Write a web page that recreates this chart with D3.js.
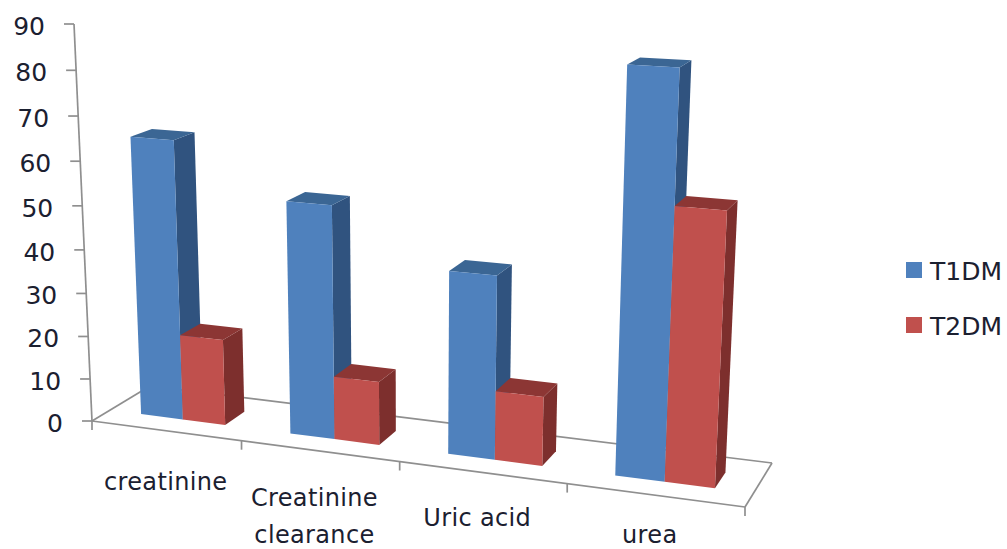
<!DOCTYPE html>
<html>
<head>
<meta charset="utf-8">
<style>
  html, body { margin: 0; padding: 0; background: #fff; }
  text { font-family: "DejaVu Sans", sans-serif; fill: #1b2030; }
</style>
<script src="https://cdnjs.cloudflare.com/ajax/libs/d3/7.8.5/d3.min.js"></script>
</head>
<body>
<svg id="chart" width="1007" height="549"></svg>
<script>
const categories = [["creatinine"], ["Creatinine", "clearance"], ["Uric acid"], ["urea"]];
const categoryKeys = ["creatinine", "Creatinine clearance", "Uric acid", "urea"];
const seriesNames = ["T1DM", "T2DM"];
const t1dmValues = [64.5, 53, 41, 87];
const t2dmValues = [20, 14.5, 15.5, 59];
const valueTicks = [0, 10, 20, 30, 40, 50, 60, 70, 80, 90];
const seriesColors = {
  T1DM: { front: "#4f81bd", side: "#30537f", top: "#3b6694" },
  T2DM: { front: "#c0504d", side: "#7d2f2d", top: "#8c3634" }
};

// Floor of the 3D plot in screen space, plus the point where verticals converge.
const floor = { fl: [92, 421], fr: [745, 507], br: [772, 463], bl: [150, 386] };
const verticalVanish = [412, 7480];
const axisTopY = 24;

function floorHomography({ fl, fr, br, bl }) {
  const dx1 = fr[0] - br[0], dx2 = bl[0] - br[0], sx = fl[0] - fr[0] + br[0] - bl[0];
  const dy1 = fr[1] - br[1], dy2 = bl[1] - br[1], sy = fl[1] - fr[1] + br[1] - bl[1];
  const den = dx1 * dy2 - dx2 * dy1;
  const g = (sx * dy2 - dx2 * sy) / den, h = (dx1 * sy - sx * dy1) / den;
  return {
    a: fr[0] - fl[0] + g * fr[0], b: bl[0] - fl[0] + h * bl[0], c: fl[0],
    d: fr[1] - fl[1] + g * fr[1], e: bl[1] - fl[1] + h * bl[1], f: fl[1], g, h
  };
}
const H = floorHomography(floor);

// Value to homogeneous lift towards the vanishing point; the top tick lands on axisTopY.
const liftAtTop = -(floor.fl[1] - axisTopY) / (verticalVanish[1] - axisTopY);
const lift = d3.scaleLinear().domain([0, 90]).range([0, liftAtTop]);

// u runs along the categories, z runs front to back, v is the data value.
function project(u, z, v) {
  const t = lift(v);
  const w = H.g * u + H.h * z + 1 + t;
  return [
    (H.a * u + H.b * z + H.c + t * verticalVanish[0]) / w,
    (H.d * u + H.e * z + H.f + t * verticalVanish[1]) / w
  ];
}

const uCategory = d3.scaleBand().domain(categoryKeys).range([0, 1]).paddingInner(0.43).paddingOuter(0.215);
const uSeries = d3.scaleBand().domain(seriesNames).range([0, uCategory.bandwidth()]);
const zBar = d3.scaleLinear().domain([0, 1]).range([0.3, 0.66]);

const svg = d3.select("#chart");
const line = d3.line();
const axisStroke = { stroke: "#8f8f8f", width: 1.7 };

function seg(g, a, b) {
  g.append("path").attr("d", line([a, b])).attr("fill", "none")
    .attr("stroke", axisStroke.stroke).attr("stroke-width", axisStroke.width);
}

// Floor outline and axes
const axes = svg.append("g");
seg(axes, project(0, 0, 0), project(1, 0, 0));
seg(axes, project(1, 0, 0), project(1, 1, 0));
seg(axes, project(1, 1, 0), project(0, 1, 0));
seg(axes, project(0, 1, 0), project(0, 0, 0));
seg(axes, project(0, 0, 0), project(0, 0, 90));

valueTicks.forEach(v => {
  const p = project(0, 0, v);
  seg(axes, [p[0] - 10, p[1]], p);
  svg.append("text").attr("x", p[0] - 29).attr("y", p[1] + 11)
    .attr("text-anchor", "end").attr("font-size", 25).text(v);
});

d3.range(0, 5).forEach(i => {
  const p = project(i / 4, 0, 0);
  seg(axes, p, [p[0], p[1] + 9]);
});

// Columns, painted left to right so nearer faces cover earlier ones
const rows = categoryKeys.flatMap((c, i) => [
  { cat: c, series: "T1DM", value: t1dmValues[i] },
  { cat: c, series: "T2DM", value: t2dmValues[i] }
]);
const bars = svg.append("g").selectAll("g").data(rows).join("g");
const poly = pts => line(pts) + "Z";
function corners(d) {
  const u0 = uCategory(d.cat) + uSeries(d.series), u1 = u0 + uSeries.bandwidth();
  const z0 = zBar(0), z1 = zBar(1);
  return { u0, u1, z0, z1 };
}
bars.append("path").attr("fill", d => seriesColors[d.series].side).attr("d", d => {
  const { u1, z0, z1 } = corners(d);
  return poly([project(u1, z0, 0), project(u1, z1, 0), project(u1, z1, d.value), project(u1, z0, d.value)]);
});
bars.append("path").attr("fill", d => seriesColors[d.series].top).attr("d", d => {
  const { u0, u1, z0, z1 } = corners(d);
  return poly([project(u0, z0, d.value), project(u1, z0, d.value), project(u1, z1, d.value), project(u0, z1, d.value)]);
});
bars.append("path").attr("fill", d => seriesColors[d.series].front).attr("d", d => {
  const { u0, u1, z0 } = corners(d);
  return poly([project(u0, z0, 0), project(u1, z0, 0), project(u1, z0, d.value), project(u0, z0, d.value)]);
});

// Category labels sit below the front axis, a little tighter towards the right,
// and are held inside the canvas at the bottom edge
categories.forEach((lines, i) => {
  const p = project((i + 0.5) / 4, 0, 0);
  const drop = lines.length > 1 ? 55 : 59 - i * 2.5;
  const label = svg.append("text").attr("text-anchor", "middle")
    .attr("font-size", 24).attr("letter-spacing", 0.35);
  lines.forEach((t, k) => {
    label.append("tspan").attr("x", p[0] - (i === 0 ? 0 : 5))
      .attr("y", Math.min(p[1] + drop + k * 37, 543)).text(t);
  });
});

// Legend
const legend = svg.append("g").selectAll("g").data(seriesNames).join("g")
  .attr("transform", (d, i) => `translate(906,${262 + i * 55})`);
legend.append("rect").attr("width", 16).attr("height", 16).attr("fill", d => seriesColors[d].front);
legend.append("text").attr("x", 24).attr("y", 18).attr("font-size", 25).text(d => d);
</script>
</body>
</html>
